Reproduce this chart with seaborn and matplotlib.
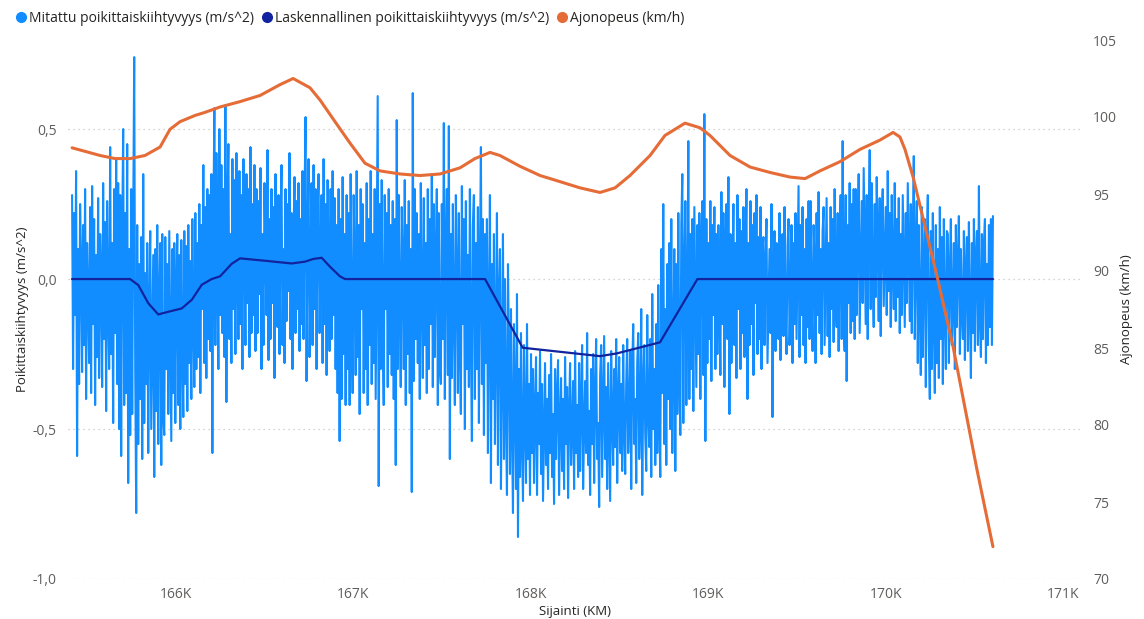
import numpy as np
import pandas as pd
import matplotlib
matplotlib.use("Agg")
import matplotlib.pyplot as plt
from matplotlib.ticker import FuncFormatter, FixedLocator
from matplotlib.lines import Line2D
import seaborn as sns

# measured lateral acceleration (m/s^2), evenly spaced samples along the track
meas_start = 165414
meas_end = 170605
measured = [
    0.28, -0.30, 0.22, -0.12, 0.36, -0.59, 0.10, -0.35, 0.25, 0.05, -0.31, 0.18, -0.22, 0.30, -0.40, 0.12, -0.05, -0.28, 0.24, -0.38, 0.31, -0.15, 0.20, -0.42,
    0.08, -0.26, 0.27, -0.33, 0.15, 0.02, -0.36, 0.32, -0.20, 0.19, -0.44, 0.26, -0.10, -0.30, 0.44, -0.25, 0.12, -0.48, 0.30, -0.18, 0.40, -0.35,
    0.32, -0.50, 0.28, -0.59, 0.15, 0.50, -0.42, 0.22, -0.38, 0.45, -0.68, 0.10, -0.52, 0.30, -0.45, 0.20, 0.74, -0.30, -0.78, 0.18, -0.55, 0.05, -0.40,
    0.14, -0.60, 0.35, -0.48, 0.02, -0.35, 0.12, -0.58, -0.10, 0.16, -0.50, -0.20, 0.08, -0.66, 0.10, -0.44, 0.18, -0.55, -0.05, 0.12, -0.62, 0.15, -0.46,
    -0.52, 0.14, -0.30, 0.05, -0.45, 0.16, -0.20, -0.54, 0.10, -0.38, 0.12, -0.48, -0.05, 0.15, -0.42, 0.08, -0.50, 0.13, -0.25, -0.46, 0.16, -0.35, 0.11,
    -0.44, 0.18, -0.28, 0.06, -0.40, 0.20, -0.15, -0.36, 0.22, -0.30, 0.12, -0.26, 0.25, -0.38, 0.18, -0.10, 0.38, -0.28, 0.24, -0.33, 0.30, -0.20, 0.28,
    -0.24, 0.35, -0.58, 0.20, 0.57, -0.22, 0.42, 0.10, -0.30, 0.50, -0.12, 0.38, -0.18, 0.30, -0.26, 0.58, -0.41, 0.25, 0.45, -0.20, 0.15, -0.28, 0.40,
    -0.10, 0.33, -0.25, 0.42, 0.05, -0.20, 0.36, -0.15, 0.28, -0.30, 0.40, 0.12, -0.22, 0.35, -0.08, 0.30, -0.26, 0.44, -0.18, 0.25, -0.12, 0.38, -0.24,
    0.30, -0.18, 0.26, -0.05, 0.37, -0.30, 0.15, -0.22, 0.32, 0.08, -0.12, 0.43, -0.27, 0.20, -0.20, 0.30, -0.08, 0.24, -0.33, 0.35, 0.02, -0.16, 0.28,
    -0.25, 0.18, 0.38, -0.22, 0.10, -0.28, 0.30, -0.14, 0.25, -0.04, 0.42, -0.20, 0.22, -0.30, 0.15, 0.34, -0.18, 0.26, -0.10, 0.32, -0.24, 0.20, -0.15,
    0.36, -0.20, 0.28, 0.54, -0.34, 0.15, 0.40, -0.26, 0.05, 0.32, -0.22, 0.38, -0.10, 0.30, -0.30, 0.22, 0.35, -0.18, 0.10, 0.28, -0.28, 0.40, -0.15,
    0.25, -0.32, 0.33, 0.02, -0.24, 0.30, -0.20, 0.36, -0.12, 0.27, -0.30, 0.18, -0.38, 0.30, -0.54, 0.20, -0.40, 0.34, -0.25, 0.15, -0.42, 0.28, -0.30,
    0.22, -0.42, 0.35, -0.15, -0.38, 0.28, 0.05, -0.32, 0.36, -0.26, 0.18, -0.45, 0.30, -0.10, 0.25, -0.38, 0.12, -0.30, 0.32, -0.42, 0.20, -0.22, 0.36,
    -0.35, 0.15, -0.28, 0.30, -0.40, 0.08, 0.61, -0.69, 0.25, -0.30, 0.33, -0.18, -0.42, 0.28, -0.10, 0.22, -0.36, 0.30, -0.25, 0.18, -0.32, 0.26, -0.40,
    0.20, -0.62, 0.53, -0.30, 0.28, -0.10, -0.36, 0.24, 0.05, -0.30, 0.33, -0.42, 0.18, -0.25, 0.26, -0.38, 0.10, -0.71, 0.62, -0.34, 0.30, -0.20, 0.22,
    -0.28, 0.15, -0.40, 0.32, -0.05, -0.33, 0.27, -0.22, 0.12, -0.38, 0.30, -0.30, 0.20, -0.15, 0.35, -0.36, 0.25, -0.26, 0.08, 0.30, -0.42, 0.22, -0.30,
    -0.35, 0.25, -0.20, 0.52, -0.40, 0.10, 0.30, -0.32, 0.51, -0.60, 0.15, -0.33, 0.25, -0.12, -0.42, 0.28, 0.02, -0.38, 0.22, -0.25, -0.45, 0.31, -0.15,
    0.20, -0.50, 0.26, -0.30, 0.08, -0.36, 0.30, -0.22, -0.54, 0.18, 0.28, -0.40, 0.12, -0.30, 0.24, -0.48, 0.05, 0.44, -0.35, 0.20, -0.52, 0.15, -0.28,
    0.20, -0.58, -0.10, 0.28, -0.68, 0.05, -0.40, 0.15, -0.55, -0.20, 0.22, -0.62, -0.05, 0.10, -0.70, -0.30, 0.15, -0.60, 0.00, -0.45, -0.72, 0.05, -0.25,
    -0.65, -0.10, -0.50, -0.78, -0.15, -0.40, -0.70, -0.05, -0.86, -0.30, -0.66, -0.18, -0.55, -0.74, -0.22, -0.48, -0.68, -0.15, -0.60, -0.35, -0.72, -0.25, -0.58,
    -0.30, -0.68, -0.45, -0.26, -0.72, -0.38, -0.55, -0.24, -0.65, -0.35, -0.74, -0.50, -0.28, -0.62, -0.40, -0.70, -0.32, -0.58, -0.25, -0.66, -0.45, -0.75, -0.30,
    -0.60, -0.38, -0.27, -0.72, -0.48, -0.33, -0.64, -0.40, -0.70, -0.26, -0.55, -0.36, -0.73, -0.44, -0.28, -0.62, -0.50, -0.34, -0.70, -0.24, -0.58, -0.42, -0.66,
    -0.28, -0.64, -0.40, -0.22, -0.70, -0.50, -0.34, -0.58, -0.18, -0.62, -0.44, -0.72, -0.30, -0.55, -0.25, -0.68, -0.38, -0.20, -0.60, -0.48, -0.76, -0.32, -0.22,
    -0.66, -0.42, -0.19, -0.60, -0.36, -0.70, -0.28, -0.52, -0.74, -0.24, -0.46, -0.62, -0.30, -0.56, -0.20, -0.68, -0.40, -0.26, -0.58, -0.35, -0.64, -0.22, -0.50,
    -0.65, -0.35, -0.20, -0.58, -0.45, -0.24, -0.70, -0.30, -0.15, -0.55, -0.40, -0.68, -0.28, -0.18, -0.60, -0.48, -0.10, -0.72, -0.36, -0.22, -0.52, -0.64, -0.12,
    -0.44, -0.56, -0.20, -0.66, -0.05, -0.50, -0.30, -0.62, -0.15, -0.58, -0.02, -0.45, -0.66, 0.10, -0.38, 0.25, -0.55, -0.10, -0.62, 0.05, -0.40, 0.12, -0.50,
    0.20, -0.58, -0.20, 0.10, -0.64, 0.05, -0.45, 0.22, -0.30, -0.52, 0.18, 0.35, -0.48, 0.02, 0.26, -0.42, -0.10, 0.46, -0.40, 0.15, -0.30, 0.20, -0.44,
    0.24, -0.05, -0.36, 0.18, -0.25, 0.22, -0.40, 0.10, 0.26, -0.32, 0.55, -0.54, 0.20, -0.28, 0.12, -0.20, 0.26, -0.34, 0.18, -0.12, 0.24, -0.30, 0.15,
    -0.25, 0.18, -0.05, -0.32, 0.29, -0.15, 0.22, -0.36, 0.08, 0.25, -0.20, 0.34, -0.45, 0.15, -0.28, 0.02, 0.25, -0.22, 0.12, -0.33, 0.28, -0.10, 0.20,
    -0.30, 0.16, -0.18, 0.24, -0.26, 0.05, 0.30, -0.40, 0.12, -0.22, 0.26, -0.15, 0.18, -0.32, 0.22, -0.08, 0.28, -0.25, 0.14, -0.20, 0.24, -0.30, 0.10,
    0.14, -0.22, 0.05, 0.20, -0.28, -0.08, 0.10, -0.18, 0.25, -0.46, 0.02, 0.16, -0.24, 0.12, -0.10, -0.20, 0.22, -0.27, 0.08, 0.15, -0.19, 0.24, -0.12,
    -0.25, 0.11, 0.20, -0.22, -0.05, 0.18, -0.28, 0.12, -0.15, 0.22, -0.20, 0.06, 0.31, -0.26, 0.18, -0.12, 0.24, -0.22, 0.10, -0.28, 0.20, -0.16, 0.26,
    -0.20, 0.26, -0.08, -0.24, 0.18, 0.05, -0.28, 0.22, -0.12, 0.29, -0.18, 0.10, -0.25, 0.16, 0.24, -0.22, 0.02, 0.27, -0.19, 0.12, -0.26, 0.24, -0.10,
    0.20, -0.21, 0.30, -0.05, -0.16, 0.22, -0.24, 0.14, 0.28, -0.20, 0.46, -0.12, -0.24, 0.28, -0.34, 0.18, -0.08, 0.32, -0.18, 0.25, -0.14, 0.30, -0.20,
    0.30, -0.12, 0.15, 0.35, -0.18, 0.05, 0.26, -0.08, 0.37, 0.10, -0.15, 0.28, -0.20, 0.18, 0.43, -0.10, 0.32, 0.02, -0.16, 0.25, -0.06, 0.34, 0.12,
    -0.14, 0.27, -0.19, 0.20, 0.30, -0.09, 0.08, 0.24, -0.12, 0.36, -0.04, 0.22, -0.16, 0.28, 0.05, -0.10, 0.32, -0.14, 0.20, -0.06, 0.27, -0.18, 0.15,
    -0.12, 0.28, 0.05, -0.16, 0.22, -0.08, 0.32, 0.10, -0.14, 0.25, -0.18, 0.15, 0.41, -0.20, 0.08, 0.26, -0.28, 0.18, -0.10, -0.32, 0.24, -0.26, 0.05,
    0.20, -0.36, 0.12, 0.28, -0.22, -0.40, 0.16, -0.30, 0.22, -0.15, -0.38, 0.18, -0.28, 0.10, -0.33, 0.24, -0.20, 0.14, -0.35, 0.20, -0.12, -0.30, 0.16,
    0.15, -0.28, 0.02, 0.20, -0.22, -0.08, 0.12, -0.30, 0.18, -0.16, 0.06, 0.21, -0.25, 0.10, -0.12, -0.20, 0.16, -0.27, 0.04, 0.14, -0.24, 0.19, -0.10,
    -0.33, 0.12, -0.18, 0.20, -0.24, 0.08, 0.16, -0.22, 0.31, -0.14, -0.26, 0.15, -0.20, 0.12, 0.20, -0.28, 0.05, -0.22, 0.18, -0.16, 0.20, -0.22, 0.21,
]

# computed lateral acceleration (m/s^2)
calc_pos = [165414, 165741, 165787, 165844, 165900, 165957, 166032, 166089, 166145, 166201,
            166248, 166314, 166361, 166502, 166652, 166727, 166774, 166821, 166868, 166924,
            166953, 167742, 167954, 168390, 168484, 168728, 168939, 170605]
calc_val = [0.0, 0.0, -0.02, -0.081, -0.118, -0.109, -0.098, -0.069, -0.019, 0.0,
            0.009, 0.051, 0.069, 0.061, 0.052, 0.058, 0.067, 0.071, 0.041, 0.009,
            0.0, 0.0, -0.229, -0.257, -0.248, -0.211, 0.0, 0.0]

# driving speed (km/h)
speed_pos = [165414, 165572, 165656, 165741, 165825, 165910, 165966, 166023, 166107, 166163,
             166248, 166361, 166474, 166586, 166660, 166755, 166812, 166896, 166981, 167065,
             167150, 167263, 167375, 167488, 167601, 167685, 167770, 167826, 167939, 168052,
             168165, 168277, 168390, 168475, 168559, 168672, 168756, 168869, 168954, 169010,
             169123, 169236, 169348, 169461, 169546, 169630, 169743, 169856, 169968, 170042,
             170081, 170109, 170155, 170295, 170380, 170515, 170605]
speed_val = [98.0, 97.5, 97.3, 97.3, 97.5, 98.05, 99.2, 99.7, 100.1, 100.3,
             100.65, 101.0, 101.4, 102.1, 102.5, 101.9, 101.1, 99.7, 98.3, 97.0,
             96.5, 96.3, 96.2, 96.3, 96.7, 97.3, 97.7, 97.5, 96.8, 96.2,
             95.8, 95.4, 95.1, 95.4, 96.2, 97.5, 98.8, 99.6, 99.3, 98.8,
             97.5, 96.75, 96.4, 96.1, 96.0, 96.5, 97.1, 97.9, 98.5, 99.0,
             98.7, 97.9, 96.1, 89.4, 85.1, 77.1, 72.1]

labels = ["Mitattu poikittaiskiihtyvyys (m/s^2)",
          "Laskennallinen poikittaiskiihtyvyys (m/s^2)",
          "Ajonopeus (km/h)"]
colors = ["#118DFF", "#12239E", "#E66C37"]

meas_df = pd.DataFrame({"pos": np.linspace(meas_start, meas_end, len(measured)), "val": measured})
calc_df = pd.DataFrame({"pos": calc_pos, "val": calc_val})
speed_df = pd.DataFrame({"pos": speed_pos, "val": speed_val})

sns.set_theme(style="white")
plt.rcParams["font.family"] = ["Open Sans", "DejaVu Sans"]

fig = plt.figure(figsize=(11.44, 6.19), dpi=100)
ax = fig.add_axes([68 / 1144, 1 - 579 / 619, 1014 / 1144, 539 / 619])
ax2 = ax.twinx()

sns.lineplot(data=meas_df, x="pos", y="val", ax=ax, color=colors[0], lw=1.5, estimator=None)
sns.lineplot(data=calc_df, x="pos", y="val", ax=ax, color=colors[1], lw=1.6, estimator=None)
sns.lineplot(data=speed_df, x="pos", y="val", ax=ax2, color=colors[2], lw=2.2, estimator=None)

ax.set_xlim(165391, 171107)
ax.set_ylim(-1.0, 0.797)
ax2.set_ylim(70, 105)

ax.xaxis.set_major_locator(FixedLocator([166000, 167000, 168000, 169000, 170000, 171000]))
ax.xaxis.set_major_formatter(FuncFormatter(lambda v, p: f"{v / 1000:.0f}K"))
ax.yaxis.set_major_locator(FixedLocator([-1.0, -0.5, 0.0, 0.5]))
ax.yaxis.set_major_formatter(FuncFormatter(lambda v, p: f"{v:.1f}".replace(".", ",")))
ax2.yaxis.set_major_locator(FixedLocator([70, 75, 80, 85, 90, 95, 100, 105]))

tick_col = "#605E5C"
for a in (ax, ax2):
    for s in a.spines.values():
        s.set_visible(False)
    a.tick_params(length=0, labelsize=10, labelcolor=tick_col)
ax.tick_params(axis="y", pad=8)
ax2.tick_params(axis="y", pad=8)
ax.tick_params(axis="x", pad=6)

ax.grid(axis="y", color="#C8C6C4", linestyle=(0, (1, 3)), lw=0.9)
ax.grid(axis="x", visible=False)
ax2.grid(False)

ax.set_xlabel("Sijainti (KM)", fontsize=9.5, color="#252423", labelpad=2)
ax.set_ylabel("Poikittaiskiihtyvyys (m/s^2)", fontsize=9.5, color="#252423", labelpad=3)
ax2.set_ylabel("Ajonopeus (km/h)", fontsize=9.5, color="#252423", labelpad=2)

handles = [Line2D([], [], marker="o", ls="", color=c, markersize=7) for c in colors]
fig.legend(handles, labels, loc="upper left", bbox_to_anchor=(0.0, 1.003), ncol=3,
           frameon=False, fontsize=10, handletextpad=0.0, columnspacing=0.3,
           handlelength=1.2, labelcolor="#252423")

fig.savefig("out.png", dpi=100)
